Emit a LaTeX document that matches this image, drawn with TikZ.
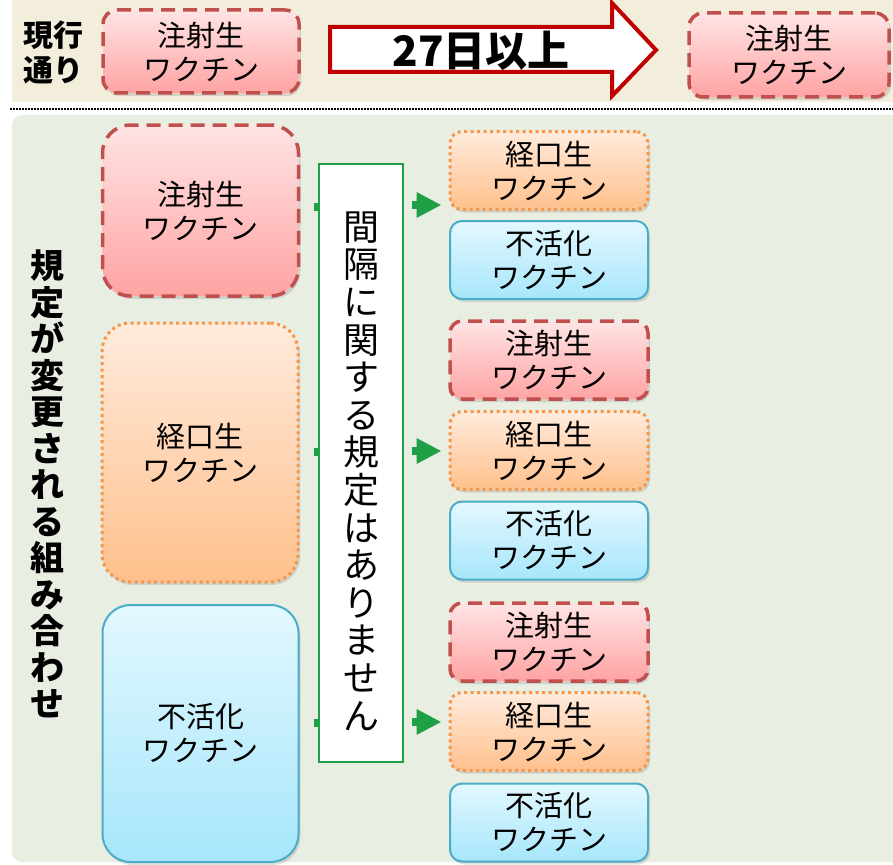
\documentclass[tikz,border=0pt]{standalone}
\usepackage{fontspec}
\setmainfont{Noto Sans CJK JP}
\usetikzlibrary{shadows,arrows.meta}
\definecolor{injB}{HTML}{C0504D}
\definecolor{injT}{HTML}{FFE4E4}
\definecolor{injL}{HTML}{FFA3A3}
\definecolor{oraB}{HTML}{F79646}
\definecolor{oraT}{HTML}{FFEBDD}
\definecolor{oraL}{HTML}{FFC08C}
\definecolor{inaB}{HTML}{4BACC6}
\definecolor{inaT}{HTML}{E3F8FF}
\definecolor{inaL}{HTML}{A6E6FB}
\definecolor{grn}{HTML}{1FA047}
\definecolor{arrR}{HTML}{C00000}
\definecolor{beige}{HTML}{F3EEDC}
\definecolor{pale}{HTML}{E9EEE3}
\newcommand\boxtxt{\fontsize{29}{34}\selectfont}
\newcommand\vtxt{\fontsize{36}{37.6}\selectfont}
\newcommand\lbltxt{\fontsize{34}{36.5}\selectfont\bfseries}
\tikzset{
  vbox/.style={align=center, inner sep=0pt, font=\boxtxt, text=black,
    drop shadow={opacity=0.25, shadow xshift=2pt, shadow yshift=-3pt}},
  inj/.style={vbox, draw=injB, line width=3.5pt, dash pattern=on 14pt off 8pt,
    top color=injT, bottom color=injL},
  ora/.style={vbox, draw=oraB, line width=3pt, dash pattern=on 3pt off 3.5pt,
    top color=oraT, bottom color=oraL},
  ina/.style={vbox, draw=inaB, line width=2pt, top color=inaT, bottom color=inaL},
  small/.style={rounded corners=12pt, minimum width=198pt, minimum height=78pt},
  big/.style={rounded corners=28pt, minimum width=196pt},
  stub/.style={draw=grn, line width=8pt},
  garrow/.style={draw=grn, line width=8pt, -{Triangle[length=25pt,width=24pt]}},
}
\begin{document}
\begin{tikzpicture}[x=1pt,y=-1pt]
\useasboundingbox (0,0) rectangle (893,864);
\fill[white] (0,0) rectangle (893,864);
% backgrounds
\fill[beige] (12,0) rectangle (893,102);
\fill[pale, rounded corners=10pt] (12,115) rectangle (905,862);
\draw[black, line width=1.6pt, dash pattern=on 1.6pt off 1.4pt] (10,109) -- (893,109);
% top row
\node[font=\fontsize{30}{35}\selectfont\bfseries, align=center] (cur) at (53,52) {現行\\通り};
\node[inj, rounded corners=14pt, minimum width=196pt, minimum height=83pt] (t1) at (201,51.5) {注射生\\ワクチン};
\node[inj, rounded corners=14pt, minimum width=200pt, minimum height=84pt] (t2) at (789,55) {注射生\\ワクチン};
\draw[arrR, fill=white, line width=4pt, line join=miter]
  (330,27) -- (612,27) -- (612,3) -- (656,50) -- (612,96) -- (612,72) -- (330,72) -- cycle;
\node[font=\fontsize{42}{42}\selectfont\bfseries] (days) at (481,51) {27日以上};
% left label
\node[font=\lbltxt, align=center] (lbl) at (47,484)
  {規\\定\\が\\変\\更\\さ\\れ\\る\\組\\み\\合\\わ\\せ};
% big boxes
\node[inj, big, minimum height=171pt] (b1) at (200.5,210.5) {注射生\\ワクチン};
\node[ora, big, minimum height=259pt] (b2) at (200,452.5) {経口生\\ワクチン};
\node[ina, big, minimum height=257pt] (b3) at (200.5,733.5) {不活化\\ワクチン};
% middle box
\node[draw=grn, fill=white, line width=2pt, minimum width=84pt, minimum height=598pt, inner sep=0pt] (wb) at (361,463) {};
\node[font=\vtxt, align=center] (wt) at (361,471)
  {間\\隔\\に\\関\\す\\る\\規\\定\\は\\あ\\り\\ま\\せ\\ん};
% small boxes
\node[ora, small] (g1a) at (549,170.5) {経口生\\ワクチン};
\node[ina, small] (g1b) at (549,260) {不活化\\ワクチン};
\node[inj, small] (g2a) at (549,360) {注射生\\ワクチン};
\node[ora, small] (g2b) at (549,450.5) {経口生\\ワクチン};
\node[ina, small] (g2c) at (549,540.5) {不活化\\ワクチン};
\node[inj, small] (g3a) at (549,642) {注射生\\ワクチン};
\node[ora, small] (g3b) at (549,731.5) {経口生\\ワクチン};
\node[ina, small] (g3c) at (549,822.5) {不活化\\ワクチン};
% connectors
\coordinate (s1) at (314,207);
\coordinate (s2) at (314,452);
\coordinate (s3) at (314,723);
\draw[stub] (s1) -- (s1 -| wb.west);
\draw[stub] (s2) -- (s2 -| wb.west);
\draw[stub] (s3) -- (s3 -| wb.west);
\coordinate (e1) at (412,205);
\coordinate (e2) at (412,451);
\coordinate (e3) at (412,722);
\draw[garrow] (e1) -- ([xshift=-7pt]e1 -| g1a.west);
\draw[garrow] (e2) -- ([xshift=-7pt]e2 -| g2b.west);
\draw[garrow] (e3) -- ([xshift=-7pt]e3 -| g3b.west);
\end{tikzpicture}
\end{document}
